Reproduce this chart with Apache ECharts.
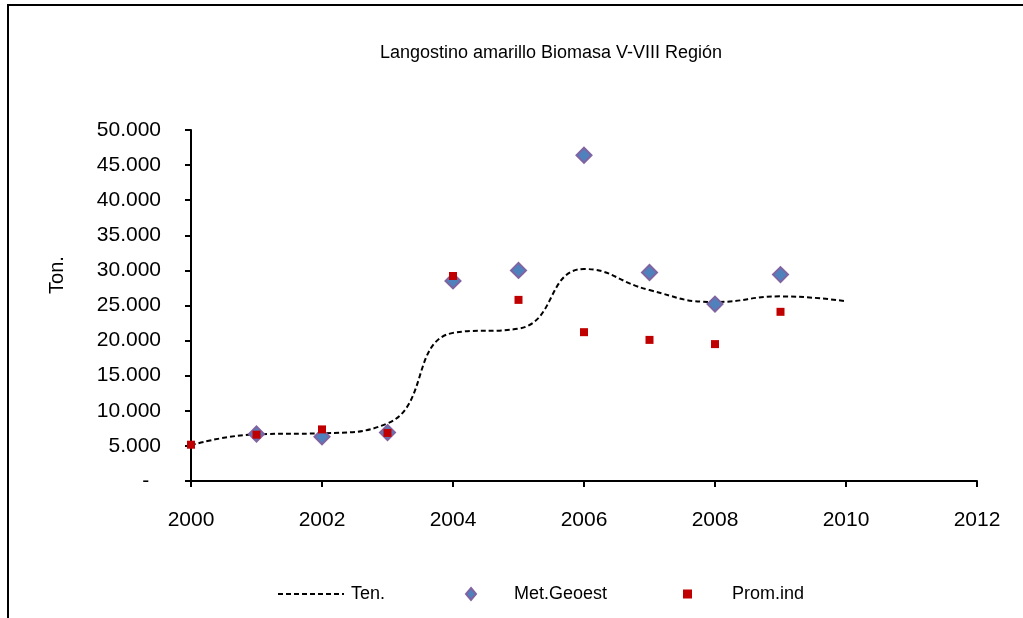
<!DOCTYPE html>
<html>
<head>
<meta charset="utf-8">
<title>Langostino amarillo Biomasa V-VIII Región</title>
<script src="https://cdn.jsdelivr.net/npm/echarts@6/dist/echarts.min.js"></script>
<style>
  html, body { margin: 0; padding: 0; background: #fff; }
  #chart { width: 1023px; height: 618px; }
</style>
</head>
<body>
<div id="chart"></div>
<script>
// datos (toneladas)
const years = [2000, 2001, 2002, 2003, 2004, 2005, 2006, 2007, 2008, 2009, 2010]
const tendencia = [5100, 6650, 6800, 8200, 21100, 21700, 30200, 27200, 25500, 26300, 25600]

const geoYears = [2001, 2002, 2003, 2004, 2005, 2006, 2007, 2008, 2009]
const metGeoest = [6700, 6300, 6900, 28500, 30000, 46400, 29700, 25200, 29400]

const promYears = [2000, 2001, 2002, 2003, 2004, 2005, 2006, 2007, 2008, 2009]
const promInd = [5170, 6600, 7350, 6850, 29200, 25800, 21200, 20100, 19500, 24100]

const font = 'Liberation Sans, Arial, sans-serif'

const pairs = (xs, ys) => xs.map((x, i) => [x, ys[i]])

// 50000 -> "50.000", 0 -> "-"
const fmtMiles = (v) => {
  if (v === 0) return '-  '
  return String(v).replace(/\B(?=(\d{3})+(?!\d))/g, '.')
}

const myChart = echarts.init(document.getElementById('chart'))

const legendText = {
  fontFamily: font,
  fontSize: 18,
  color: '#000'
}

const option = {
  animation: false,
  backgroundColor: '#fff',
  title: {
    text: 'Langostino amarillo Biomasa V-VIII Región',
    left: 546,
    top: 39,
    textAlign: 'center',
    textStyle: {
      fontFamily: font,
      fontSize: 18,
      fontWeight: 'normal',
      color: '#000'
    }
  },
  graphic: [
    {
      // marco exterior
      type: 'rect',
      shape: { x: 8, y: 5, width: 1200, height: 800 },
      style: { fill: 'none', stroke: '#000', lineWidth: 2 },
      silent: true
    },
    {
      type: 'text',
      x: 57,
      y: 275,
      rotation: Math.PI / 2,
      style: {
        text: 'Ton.',
        font: '20px ' + font,
        fill: '#000',
        textAlign: 'center',
        textVerticalAlign: 'middle'
      }
    }
  ],
  legend: [
    {
      data: ['Ten.'],
      left: 272,
      top: 580,
      itemWidth: 66,
      itemHeight: 16,
      itemGap: 0,
      itemStyle: { opacity: 0 },
      textStyle: { ...legendText, padding: [0, 0, 0, 2] }
    },
    {
      data: ['Met.Geoest'],
      left: 460,
      top: 580,
      itemWidth: 10,
      itemHeight: 12,
      textStyle: { ...legendText, padding: [0, 0, 0, 33] }
    },
    {
      data: ['Prom.ind'],
      left: 678,
      top: 580,
      itemWidth: 9,
      itemHeight: 9,
      textStyle: { ...legendText, padding: [0, 0, 0, 35] }
    }
  ],
  grid: {
    left: 191,
    right: 46,
    top: 130,
    bottom: 137
  },
  xAxis: {
    type: 'value',
    min: 2000,
    max: 2012,
    interval: 2,
    splitLine: { show: false },
    axisLine: { lineStyle: { color: '#000', width: 2 } },
    axisTick: { show: true, inside: false, length: 6, lineStyle: { color: '#000', width: 2 } },
    axisLabel: {
      margin: 29,
      fontFamily: font,
      fontSize: 21,
      color: '#000',
      formatter: (v) => String(v)
    }
  },
  yAxis: {
    type: 'value',
    min: 0,
    max: 50000,
    interval: 5000,
    splitLine: { show: false },
    axisLine: { show: true, lineStyle: { color: '#000', width: 2 } },
    axisTick: { show: true, inside: false, length: 6, lineStyle: { color: '#000', width: 2 } },
    axisLabel: {
      margin: 30,
      fontFamily: font,
      fontSize: 21,
      color: '#000',
      formatter: fmtMiles
    }
  },
  series: [
    {
      name: 'Ten.',
      type: 'line',
      data: pairs(years, tendencia),
      smooth: 0.5,
      showSymbol: false,
      symbol: 'none',
      color: '#000',
      lineStyle: { color: '#000', width: 2, type: [5, 3] },
      z: 2
    },
    {
      name: 'Met.Geoest',
      type: 'scatter',
      data: pairs(geoYears, metGeoest),
      symbol: 'diamond',
      symbolSize: 15,
      itemStyle: {
        color: '#4F81BD',
        borderColor: '#8064A2',
        borderWidth: 2,
        opacity: 1
      },
      z: 3
    },
    {
      name: 'Prom.ind',
      type: 'scatter',
      data: pairs(promYears, promInd),
      symbol: 'rect',
      symbolSize: 8,
      itemStyle: { color: '#C00000', opacity: 1 },
      z: 4
    }
  ]
}

myChart.setOption(option)
</script>
</body>
</html>
